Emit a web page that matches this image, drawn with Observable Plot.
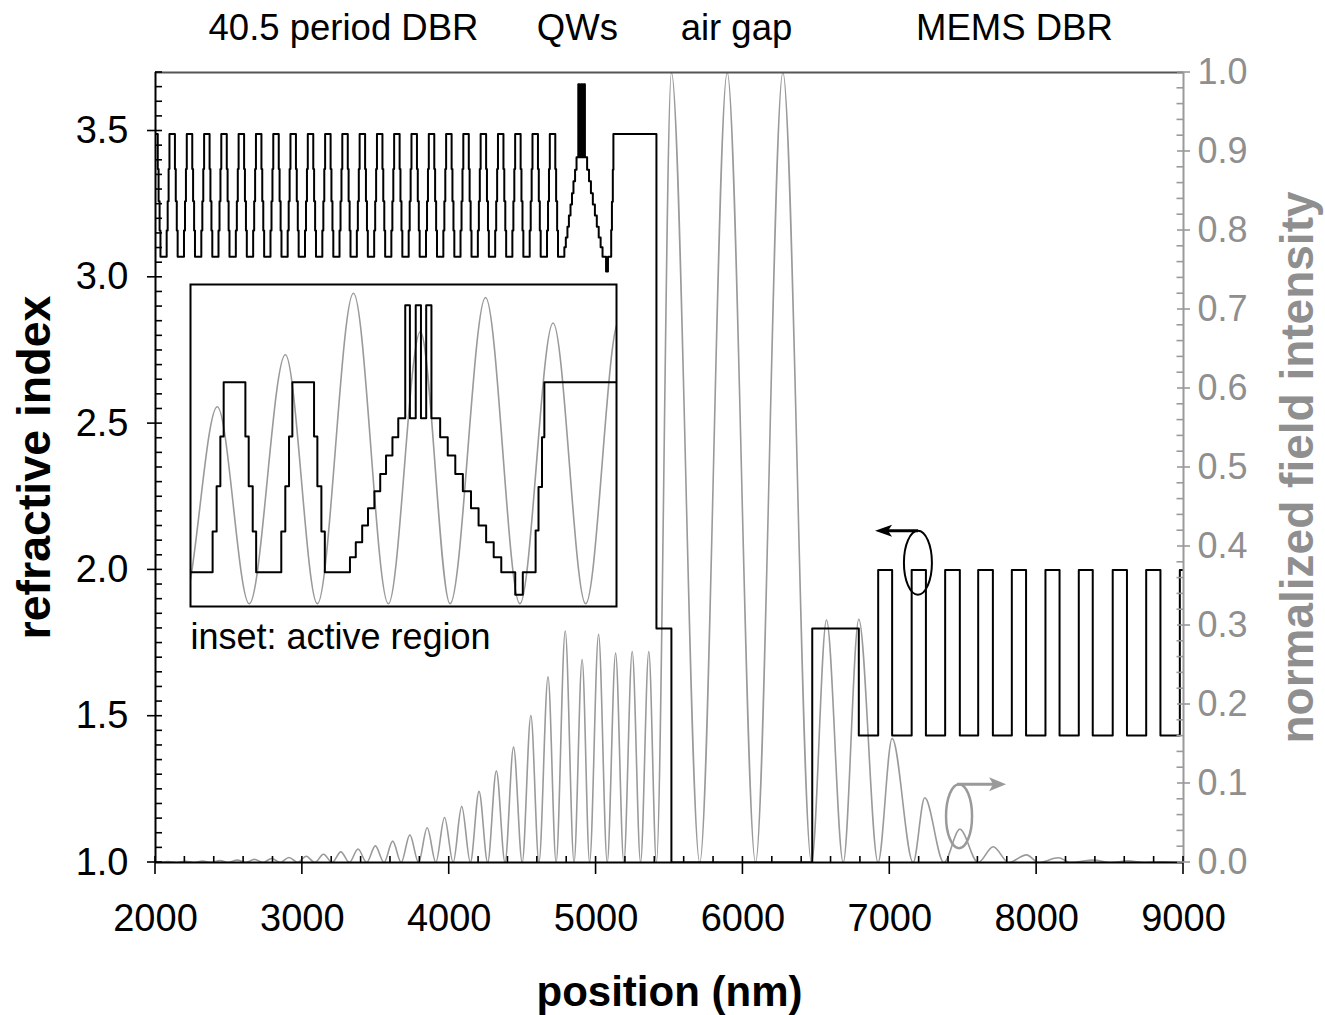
<!DOCTYPE html>
<html><head><meta charset="utf-8">
<script src="https://cdn.jsdelivr.net/npm/d3@7"></script>
<script src="https://cdn.jsdelivr.net/npm/@observablehq/plot@0.6"></script>
<style>
body{margin:0;background:#fff;}
#wrap{position:relative;width:1325px;height:1015px;overflow:hidden;background:#fff;}
#wrap svg{position:absolute;left:0;top:0;}
</style></head><body><div id="wrap"></div>
<script>
// ---------------- DATA ----------------
// 40.5 period bottom DBR: start (nm) of each period's graded rising edge
const dbrPeriodStarts = [1959, 2076, 2194, 2312, 2429, 2547, 2665, 2783, 2900, 3018, 3136, 3253,
  3371, 3489, 3606, 3724, 3842, 3960, 4077, 4195, 4313, 4430, 4548, 4666];
// layer offsets inside one period (nm) and their refractive index
const dbrLayerOffsets = [0, 6.9, 13.3, 19, 56.3, 62, 68.9, 74.8];
const dbrLayerIndex = [3.16, 3.26, 3.37, 3.49, 3.37, 3.26, 3.16, 3.07];

// active region (graded SCH, 3 QWs), cap, air gap (layer starts, nm)
const activeX = [4784, 4794, 4805, 4815, 4826, 4836, 4846, 4857, 4867,
  4879, 4887, 4897, 4906, 4915, 4924,
  4939, 4952, 4965, 4978, 4992, 5005, 5018, 5031, 5044, 5068, 5081,
  5103, 5108, 5114, 5118, 5411, 5513, 6472, 6789];
const activeN = [3.103, 3.136, 3.173, 3.211, 3.249, 3.287, 3.328, 3.368, 3.41,
  3.66, 3.41, 3.66, 3.41, 3.66, 3.41,
  3.368, 3.328, 3.287, 3.249, 3.211, 3.173, 3.136, 3.103, 3.07, 3.02, 3.07,
  3.162, 3.258, 3.368, 3.49, 1.8, 1.0, 1.8, 1.434];

// MEMS DBR high-index layers (nm)
const memsHighStart = [6921, 7149, 7377, 7602, 7831, 8060, 8287, 8518, 8746, 8975];
const memsHighEnd   = [7016, 7246, 7477, 7702, 7928, 8156, 8382, 8615, 8843, 9040];
const memsHighN = 2.0;
const memsLowN = 1.434;

// normalized field intensity: peaks and zeros (nm)
const peaksX = [1967, 2085, 2203, 2320, 2438, 2556, 2673, 2791, 2909, 3026, 3144, 3262, 3379, 3497,
  3615, 3732, 3850, 3968, 4085, 4203, 4321, 4438, 4556, 4673, 4790, 4905, 5017, 5133, 5246, 5359,
  5513, 5893, 6272, 6569, 6789, 7016, 7238, 7477, 7704, 7931, 8149, 8387, 8619, 8843];
const peaksI = [0.001, 0.0012, 0.0015, 0.0019, 0.0024, 0.003, 0.004, 0.005, 0.0064, 0.008, 0.0105, 0.0135, 0.017, 0.021,
  0.027, 0.035, 0.044, 0.057, 0.071, 0.090, 0.116, 0.146, 0.186, 0.235, 0.293, 0.257, 0.289, 0.265, 0.267, 0.267,
  1.0, 1.0, 1.0, 0.307, 0.308, 0.157, 0.082, 0.042, 0.020, 0.0097, 0.006, 0.003, 0.002, 0.001];
const zerosX = [1908, 2026, 2144, 2262, 2379, 2497, 2615, 2732, 2850, 2968, 3085, 3203, 3320, 3438,
  3556, 3673, 3791, 3909, 4027, 4144, 4262, 4380, 4497, 4611, 4728, 4850, 4956, 5076, 5189, 5303,
  5411, 5706, 6086, 6467, 6683, 6920, 7159, 7368, 7602, 7810, 8013, 8230, 8503, 8741, 8979];

// axes
const xTicks = [2000, 3000, 4000, 5000, 6000, 7000, 8000, 9000];
const yTicks = [1.0, 1.5, 2.0, 2.5, 3.0, 3.5];
const rightTicks = [0.0, 0.1, 0.2, 0.3, 0.4, 0.5, 0.6, 0.7, 0.8, 0.9, 1.0];

// labels
const topLabels = ["40.5 period DBR", "QWs", "air gap", "MEMS DBR"];
const topLabelX = [3280, 4873, 5956, 7849];
const insetLabel = {text: "inset: active region", x: 2238, y: 1.77};
const leftTitle = {text: "refractive index", x: 1183, y: 2.35};
const rightTitle = {text: "normalized field intensity", x: 9783, y: 2.35};
const insetXDomain = [4510, 5242];
const insetYDomain = [2.994, 3.706];
// annotation markers (ellipse centre, arrow tip)
const annIndex = {x: 7195, y: 2.023, tip: 6903};
const annField = {x: 7475, I: 0.058, tip: 7795};

// ---------------- BUILD ----------------
const FONT = "'Liberation Sans', Arial, Helvetica, sans-serif";
const GRAY = "#9a9a9a";
const LABELGRAY = "#8f8f8f";
const toIdx = I => 1 + I * 2.7;

const indexSteps = [];
dbrPeriodStarts.forEach(r => dbrLayerOffsets.forEach((o, i) => indexSteps.push({x: r + o, n: dbrLayerIndex[i]})));
activeX.forEach((x, i) => indexSteps.push({x, n: activeN[i]}));
memsHighStart.forEach((s, i) => {
  indexSteps.push({x: s, n: memsHighN});
  indexSteps.push({x: memsHighEnd[i], n: memsLowN});
});

const field = [];
zerosX.forEach((z, i) => {
  field.push({x: z, I: 0});
  if (i < peaksX.length) field.push({x: peaksX[i], I: peaksI[i]});
});

const main = Plot.plot({
  width: 1325, height: 1015,
  marginLeft: 155, marginRight: 142, marginTop: 72, marginBottom: 153,
  style: {fontFamily: FONT, fontSize: "38px", background: "white", overflow: "visible", color: "#000"},
  x: {domain: [2000, 9000]},
  y: {domain: [1, 3.7]},
  marks: [
    Plot.line(field, {x: "x", y: d => toIdx(d.I), stroke: GRAY, strokeWidth: 1.6, curve: "monotone-x", clip: true}),
    Plot.line(indexSteps, {x: "x", y: "n", stroke: "#000", strokeWidth: 2, curve: "step-after", clip: true}),
    Plot.ruleY([3.7], {stroke: "#555", strokeWidth: 2}),
    Plot.ruleX([9000], {stroke: GRAY, strokeWidth: 2}),
    Plot.ruleY([1], {stroke: "#000", strokeWidth: 2}),
    Plot.ruleX([2000], {stroke: "#000", strokeWidth: 2}),
    Plot.axisX(xTicks, {anchor: "bottom", tickSize: 0, tickPadding: 42, label: null, tickFormat: d => String(d)}),
    Plot.axisY(yTicks, {anchor: "left", tickSize: 0, tickPadding: 27, label: null, tickFormat: d => d.toFixed(1)}),
    Plot.axisY(rightTicks.map(toIdx), {anchor: "right", tickSize: 0, tickPadding: 14, label: null, fontSize: 36,
      tickFormat: v => ((v - 1) / 2.7).toFixed(1), color: LABELGRAY}),
    Plot.text(topLabels, {x: topLabelX, text: topLabels, frameAnchor: "top", dy: -58, fontSize: 36.5}),
    Plot.text([insetLabel], {x: "x", y: "y", text: "text", textAnchor: "start", fontSize: 36}),
    Plot.text(["position (nm)"], {text: d => d, frameAnchor: "bottom", textAnchor: "middle", dy: 143, fontSize: 42, fontWeight: "bold"}),
    Plot.text([leftTitle], {x: "x", y: "y", text: "text", textAnchor: "middle", rotate: -90, fontSize: 46.5, fontWeight: "bold", clip: false}),
    Plot.text([rightTitle], {x: "x", y: "y", text: "text", textAnchor: "middle", rotate: -90, fontSize: 46, fontWeight: "bold", fill: LABELGRAY, clip: false})
  ]
});
document.getElementById("wrap").appendChild(main);

// ticks and annotation glyphs through the plot's own scales
const sx = main.scale("x"), sy = main.scale("y");
const X = d3.scaleLinear(sx.domain, sx.range);
const Y = d3.scaleLinear(sy.domain, sy.range);
const g = d3.select(main).append("g").attr("fill", "none");
const seg = (x1, y1, x2, y2, c) => g.append("line").attr("x1", x1).attr("y1", y1).attr("x2", x2).attr("y2", y2)
  .attr("stroke", c).attr("stroke-width", 1.6);
const x0 = X(2000), x9 = X(9000), yb = Y(1);
d3.range(2000, 9001, 200).forEach(v => {
  if (v % 1000 === 0) seg(X(v), yb - 6, X(v), yb + 12, "#000");
  else seg(X(v), yb, X(v), yb - 6, "#000");
});
d3.range(0, 55).map(i => 1 + i * 0.05).forEach((v, i) => {
  if (i % 10 === 0) seg(x0 - 8, Y(v), x0 + 7, Y(v), "#000");
  else seg(x0, Y(v), x0 + 7, Y(v), "#000");
});
d3.range(0, 51).map(i => i * 0.02).forEach((v, i) => {
  if (i % 5 === 0) seg(x9 - 6, Y(toIdx(v)), x9 + 7, Y(toIdx(v)), GRAY);
  else seg(x9 - 6.5, Y(toIdx(v)), x9, Y(toIdx(v)), GRAY);
});
// refractive-index marker (black, arrow to the left)
{
  const cx = X(annIndex.x), cy = Y(annIndex.y), tip = X(annIndex.tip);
  g.append("ellipse").attr("cx", cx).attr("cy", cy).attr("rx", 14).attr("ry", 32).attr("stroke", "#000").attr("stroke-width", 2);
  g.append("line").attr("x1", cx).attr("y1", cy - 32).attr("x2", tip + 10).attr("y2", cy - 32).attr("stroke", "#000").attr("stroke-width", 3);
  g.append("path").attr("d", `M${tip},${cy - 32}L${tip + 17},${cy - 38}L${tip + 13},${cy - 32}L${tip + 17},${cy - 26}Z`).attr("fill", "#000");
}
// field marker (gray, arrow to the right)
{
  const cx = X(annField.x), cy = Y(toIdx(annField.I)), tip = X(annField.tip);
  g.append("ellipse").attr("cx", cx).attr("cy", cy).attr("rx", 13).attr("ry", 32).attr("stroke", GRAY).attr("stroke-width", 2.5);
  g.append("line").attr("x1", cx - 2).attr("y1", cy - 32).attr("x2", tip - 10).attr("y2", cy - 32).attr("stroke", GRAY).attr("stroke-width", 3);
  g.append("path").attr("d", `M${tip},${cy - 32}L${tip - 17},${cy - 39}L${tip - 13},${cy - 32}L${tip - 17},${cy - 25}Z`).attr("fill", GRAY);
}

// inset: active region
const inset = Plot.plot({
  width: 430, height: 326, margin: 2,
  style: {background: "white", overflow: "visible"},
  x: {domain: insetXDomain, axis: null},
  y: {domain: insetYDomain, axis: null},
  marks: [
    Plot.line(field, {x: "x", y: d => 3.0 + d.I * 2.343, stroke: GRAY, strokeWidth: 1.6, curve: "monotone-x", clip: true}),
    Plot.line(indexSteps, {x: "x", y: "n", stroke: "#000", strokeWidth: 2, curve: "step-after", clip: true}),
    Plot.frame({stroke: "#000", strokeWidth: 2})
  ]
});
inset.style.left = "188px";
inset.style.top = "282px";
document.getElementById("wrap").appendChild(inset);
</script></body></html>
